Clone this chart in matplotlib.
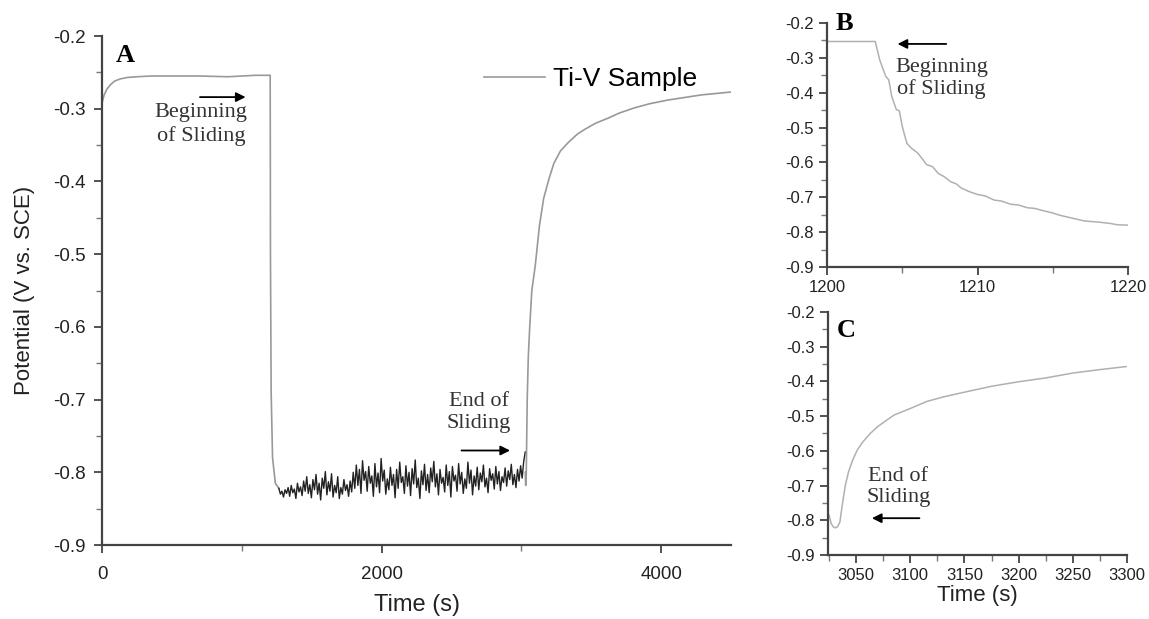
import numpy as np
import matplotlib
matplotlib.use("Agg")
import matplotlib.pyplot as plt
from matplotlib.ticker import MultipleLocator

# ---------------- data ----------------
# Panel A: open circuit potential before, during and after sliding
pre_t = [0, 15, 35, 60, 90, 130, 180, 250, 350, 500, 700, 900, 1100, 1203,
         1204, 1205, 1210, 1220, 1240, 1265]
pre_v = [-0.292, -0.281, -0.273, -0.267, -0.262, -0.259, -0.257, -0.256, -0.255, -0.255,
         -0.255, -0.256, -0.254, -0.254, -0.35, -0.50, -0.69, -0.78, -0.815, -0.822]

# noisy potential while sliding (1265 s .. 3028 s)
slide_v = [
    -0.822, -0.830, -0.826, -0.834, -0.824, -0.829, -0.821, -0.833, -0.818, -0.828,
    -0.823, -0.836, -0.815, -0.827, -0.820, -0.832, -0.812, -0.826, -0.806, -0.829,
    -0.817, -0.835, -0.810, -0.824, -0.803, -0.830, -0.815, -0.838, -0.808, -0.822,
    -0.799, -0.831, -0.813, -0.826, -0.802, -0.834, -0.818, -0.828, -0.806, -0.836,
    -0.821, -0.830, -0.810, -0.825, -0.817, -0.833, -0.812, -0.827, -0.800, -0.822,
    -0.790, -0.818, -0.796, -0.829, -0.784, -0.811, -0.799, -0.826, -0.792, -0.815,
    -0.805, -0.833, -0.788, -0.820, -0.801, -0.828, -0.781, -0.812, -0.797, -0.830,
    -0.809, -0.824, -0.793, -0.818, -0.803, -0.835, -0.796, -0.822, -0.786, -0.814,
    -0.806, -0.829, -0.791, -0.819, -0.800, -0.832, -0.795, -0.816, -0.783, -0.821,
    -0.808, -0.836, -0.798, -0.817, -0.789, -0.825, -0.803, -0.828, -0.794, -0.813,
    -0.785, -0.820, -0.802, -0.831, -0.796, -0.815, -0.807, -0.827, -0.790, -0.818,
    -0.799, -0.834, -0.792, -0.812, -0.804, -0.826, -0.788, -0.816, -0.800, -0.829,
    -0.809, -0.822, -0.786, -0.815, -0.797, -0.831, -0.805, -0.819, -0.793, -0.824,
    -0.801, -0.813, -0.790, -0.820, -0.808, -0.828, -0.795, -0.811, -0.802, -0.823,
    -0.792, -0.816, -0.799, -0.825, -0.806, -0.814, -0.794, -0.819, -0.798, -0.810,
    -0.789, -0.817, -0.803, -0.821, -0.796, -0.812, -0.791, -0.808, -0.785, -0.772,
]
slide_t = np.linspace(1265, 3028, len(slide_v))

post_t = [3028, 3031, 3035, 3038, 3042, 3050, 3060, 3075, 3100, 3130, 3160, 3200, 3233,
          3280, 3333, 3400, 3448, 3530, 3620, 3700, 3806, 3920, 4050, 4287, 4500]
post_v = [-0.80, -0.818, -0.804, -0.76, -0.70, -0.64, -0.60, -0.55, -0.515, -0.46, -0.423,
          -0.395, -0.375, -0.358, -0.347, -0.335, -0.329, -0.320, -0.313, -0.306, -0.299,
          -0.293, -0.288, -0.281, -0.277]

# Panel B: zoom on beginning of sliding
b_t = [1200, 1203.2, 1203.5, 1203.9, 1204.1, 1204.3, 1204.6, 1204.8, 1205.0, 1205.3,
       1205.6, 1206.0, 1206.3, 1206.6, 1207.0, 1207.4, 1207.75, 1208.2, 1208.6, 1208.9,
       1209.4, 1210.0, 1210.5, 1211.1, 1211.6, 1212.2, 1212.7, 1213.3, 1213.8, 1214.4,
       1214.9, 1215.5, 1216.0, 1216.6, 1217.1, 1217.7, 1218.2, 1218.8, 1219.3, 1220]
b_v = [-0.253, -0.253, -0.306, -0.353, -0.363, -0.411, -0.448, -0.452, -0.497, -0.545,
       -0.559, -0.572, -0.588, -0.606, -0.612, -0.632, -0.640, -0.655, -0.662, -0.673,
       -0.683, -0.692, -0.696, -0.708, -0.711, -0.720, -0.722, -0.730, -0.732, -0.739,
       -0.744, -0.752, -0.757, -0.763, -0.768, -0.770, -0.772, -0.775, -0.779, -0.780]

# Panel C: zoom on end of sliding
c_t = [3025, 3027, 3029, 3031, 3033, 3035, 3037, 3040, 3043, 3047, 3051, 3056, 3063,
       3070, 3078, 3085, 3100, 3115, 3130, 3150, 3175, 3200, 3225, 3250, 3275, 3300]
c_v = [-0.785, -0.81, -0.819, -0.822, -0.818, -0.805, -0.76, -0.70, -0.66, -0.625, -0.598,
       -0.575, -0.55, -0.53, -0.512, -0.497, -0.478, -0.458, -0.445, -0.431, -0.414, -0.401,
       -0.39, -0.376, -0.366, -0.357]

# ---------------- styling ----------------
sans = ['Liberation Sans', 'DejaVu Sans']
serif = ['Liberation Serif', 'DejaVu Serif']
plt.rcParams['font.family'] = sans
plt.rcParams['axes.unicode_minus'] = False
spine_col = '#444444'


def style_axes(ax, lab_size):
    for s in ['top', 'right']:
        ax.spines[s].set_visible(False)
    for s in ['left', 'bottom']:
        ax.spines[s].set_color(spine_col)
        ax.spines[s].set_linewidth(1.6)
    ax.tick_params(which='major', direction='out', length=6, width=1.3,
                   color=spine_col, labelsize=lab_size, labelcolor='#222222')
    ax.tick_params(which='minor', direction='out', length=4, width=1.0, color='#777777')


fig = plt.figure(figsize=(11.49, 6.19), dpi=100)

# ---- Panel A ----
axA = fig.add_axes([0.0888, 0.1195, 0.5474, 0.8223])
axA.plot(pre_t, pre_v, color='#999999', lw=1.2, label='Ti-V Sample')
axA.plot(slide_t, slide_v, color='#222222', lw=1.0)
axA.plot(post_t, post_v, color='#999999', lw=1.2)
axA.set_xlim(0, 4500)
axA.set_ylim(-0.9, -0.2)
axA.xaxis.set_major_locator(MultipleLocator(2000))
axA.xaxis.set_minor_locator(MultipleLocator(1000))
axA.yaxis.set_major_locator(MultipleLocator(0.1))
axA.yaxis.set_minor_locator(MultipleLocator(0.05))
style_axes(axA, 13.5)
axA.tick_params(axis='x', which='major', pad=9)
axA.tick_params(axis='y', which='major', pad=5.5)
axA.set_xlabel('Time (s)', fontsize=17, color='#222222', labelpad=8)
axA.set_ylabel('Potential (V vs. SCE)', fontsize=16, color='#222222', labelpad=13)
axA.text(0.022, 0.962, 'A', transform=axA.transAxes, fontsize=19, fontweight='bold',
         family=serif, va='center', ha='left')
axA.legend(loc='upper right', bbox_to_anchor=(0.975, 0.975), frameon=False, fontsize=19,
           handlelength=2.3, handletextpad=0.3, borderaxespad=0.3)
axA.annotate('', xy=(1047, -0.284), xytext=(681, -0.284),
             arrowprops=dict(arrowstyle='-|>', color='black', lw=1.3, mutation_scale=14))
axA.text(710, -0.322, 'Beginning\nof Sliding', family=serif, fontsize=16, ha='center',
         va='center', color='#333333', linespacing=1.25)
axA.annotate('', xy=(2939, -0.770), xytext=(2552, -0.770),
             arrowprops=dict(arrowstyle='-|>', color='black', lw=1.3, mutation_scale=14))
axA.text(2695, -0.718, 'End of\nSliding', family=serif, fontsize=16, ha='center',
         va='center', color='#333333', linespacing=1.25)

# ---- Panel B ----
axB = fig.add_axes([0.7198, 0.5687, 0.2620, 0.3941])
axB.plot(b_t, b_v, color='#b0b0b0', lw=1.1)
axB.set_xlim(1200, 1220)
axB.set_ylim(-0.9, -0.2)
axB.xaxis.set_major_locator(MultipleLocator(10))
axB.xaxis.set_minor_locator(MultipleLocator(5))
axB.yaxis.set_major_locator(MultipleLocator(0.1))
axB.yaxis.set_minor_locator(MultipleLocator(0.05))
style_axes(axB, 12)
axB.text(0.03, 1.0, 'B', transform=axB.transAxes, fontsize=19, fontweight='bold',
         family=serif, va='center', ha='left')
axB.annotate('', xy=(1204.5, -0.26), xytext=(1208.1, -0.26),
             arrowprops=dict(arrowstyle='-|>', color='black', lw=1.3, mutation_scale=14))
axB.text(1207.6, -0.36, 'Beginning\nof Sliding', family=serif, fontsize=16, ha='center',
         va='center', color='#333333', linespacing=1.15)

# ---- Panel C ----
axC = fig.add_axes([0.7206, 0.1034, 0.2602, 0.3926])
axC.plot(c_t, c_v, color='#b0b0b0', lw=1.1)
axC.set_xlim(3024, 3300)
axC.set_ylim(-0.9, -0.2)
axC.xaxis.set_major_locator(MultipleLocator(50))
axC.xaxis.set_minor_locator(MultipleLocator(25))
axC.yaxis.set_major_locator(MultipleLocator(0.1))
axC.yaxis.set_minor_locator(MultipleLocator(0.05))
style_axes(axC, 12)
axC.set_xlabel('Time (s)', fontsize=16, color='#222222', labelpad=1)
axC.text(0.03, 0.925, 'C', transform=axC.transAxes, fontsize=19, fontweight='bold',
         family=serif, va='center', ha='left')
axC.annotate('', xy=(3062, -0.794), xytext=(3111, -0.794),
             arrowprops=dict(arrowstyle='-|>', color='black', lw=1.3, mutation_scale=14))
axC.text(3089, -0.704, 'End of\nSliding', family=serif, fontsize=16, ha='center',
         va='center', color='#333333', linespacing=1.15)

fig.savefig('out.png', dpi=100)
